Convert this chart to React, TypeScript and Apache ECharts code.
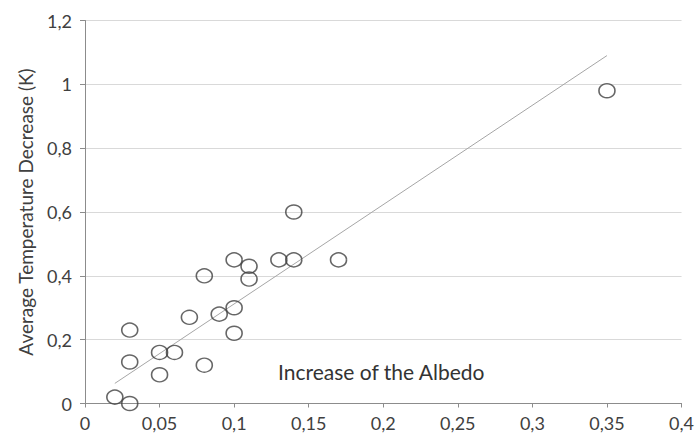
import React, { useEffect, useRef } from "react";
import * as echarts from "echarts";

const albedoIncrease = [0.02, 0.03, 0.03, 0.03, 0.05, 0.05, 0.06, 0.07, 0.08, 0.08, 0.09, 0.1, 0.1, 0.1, 0.11, 0.11, 0.13, 0.14, 0.14, 0.17, 0.35];
const tempDecrease = [0.02, 0, 0.23, 0.13, 0.16, 0.09, 0.16, 0.27, 0.4, 0.12, 0.28, 0.45, 0.3, 0.22, 0.43, 0.39, 0.45, 0.45, 0.6, 0.45, 0.98];
const trendX = [0.02, 0.35];
const trendY = [0.063, 1.09];

const fmt = (v: number) => String(Number(v.toFixed(2))).replace(".", ",");

export default function App() {
  const ref = useRef<HTMLDivElement>(null);
  useEffect(() => {
    if (!ref.current) return;
    const chart = echarts.init(ref.current, null, { renderer: "svg" });
    const font = "Lato, 'Open Sans', sans-serif";
    chart.setOption({
      animation: false,
      backgroundColor: "#ffffff",
      textStyle: { fontFamily: font },
      grid: { left: 85, right: 13, top: 20.5, bottom: 29.5, containLabel: false },
      xAxis: {
        type: "value",
        min: 0,
        max: 0.4,
        interval: 0.05,
        axisLine: { show: true, lineStyle: { color: "#8c8c8c", width: 1 } },
        axisTick: { show: true, length: 4, lineStyle: { color: "#8c8c8c" } },
        splitLine: { show: false },
        axisLabel: { formatter: fmt, color: "#404040", fontSize: 18, margin: 10, fontFamily: font },
      },
      yAxis: {
        type: "value",
        min: 0,
        max: 1.2,
        interval: 0.2,
        name: "Average Temperature Decrease (K)",
        nameLocation: "middle",
        nameGap: 50,
        nameTextStyle: { color: "#404040", fontSize: 19, fontFamily: font },
        axisLine: { show: true, lineStyle: { color: "#8c8c8c", width: 1 } },
        axisTick: { show: true, length: 5, lineStyle: { color: "#8c8c8c" } },
        splitLine: { show: true, lineStyle: { color: "#d9d9d9", width: 1 } },
        axisLabel: { formatter: fmt, color: "#404040", fontSize: 18, margin: 13, fontFamily: font },
      },
      graphic: [
        {
          type: "text",
          left: 278,
          top: 361,
          style: { text: "Increase of the Albedo", fill: "#333333", fontSize: 21, fontFamily: font },
        },
      ],
      series: [
        {
          type: "line",
          data: trendX.map((x, i) => [x, trendY[i]]),
          symbol: "none",
          lineStyle: { color: "#a6a6a6", width: 1 },
          z: 1,
        },
        {
          type: "scatter",
          data: albedoIncrease.map((x, i) => [x, tempDecrease[i]]),
          symbol: "circle",
          symbolSize: [16, 14],
          itemStyle: { color: "rgba(255,255,255,0)", borderColor: "#404040", borderWidth: 1.5 },
          z: 2,
        },
      ],
    });
    return () => chart.dispose();
  }, []);
  return <div ref={ref} style={{ width: 697, height: 433, position: "absolute", left: 0, top: 0 }} />;
}
